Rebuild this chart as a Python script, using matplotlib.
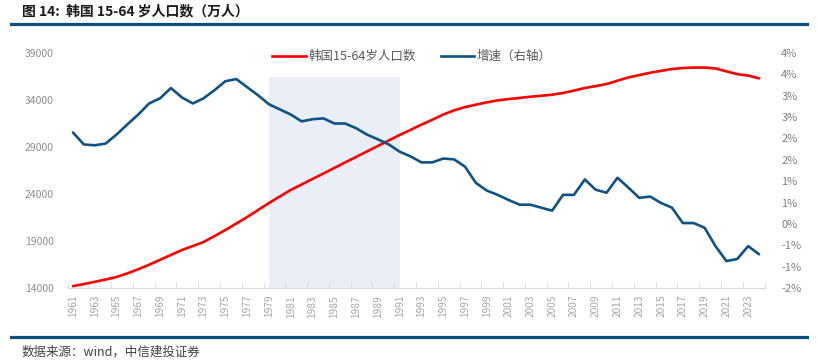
import numpy as np
import matplotlib.pyplot as plt
from matplotlib.ticker import FuncFormatter, MultipleLocator
from matplotlib.lines import Line2D

plt.rcParams['font.family'] = ['Noto Sans CJK SC', 'DejaVu Sans']

# data
years = list(range(1961, 2025))
pop = [14200, 14420, 14660, 14900, 15170, 15560, 16000, 16480, 17000, 17520,
       18040, 18460, 18900, 19520, 20170, 20860, 21550, 22300, 23040, 23740,
       24430, 25010, 25600, 26180, 26770, 27360, 27940, 28530, 29110, 29700,
       30280, 30820, 31380, 31900, 32450, 32900, 33250, 33500, 33750, 33960,
       34100, 34220, 34350, 34450, 34560, 34750, 35000, 35280, 35480, 35700,
       36050, 36400, 36650, 36900, 37100, 37300, 37400, 37450, 37450, 37350,
       37050, 36750, 36600, 36300]
growth = [2.14, 1.86, 1.84, 1.88, 2.09, 2.33, 2.56, 2.82, 2.94, 3.18,
          2.96, 2.82, 2.94, 3.13, 3.34, 3.39, 3.20, 3.01, 2.80, 2.68,
          2.56, 2.40, 2.45, 2.47, 2.35, 2.35, 2.24, 2.09, 1.98, 1.86,
          1.69, 1.58, 1.44, 1.44, 1.53, 1.51, 1.34, 0.96, 0.78, 0.68,
          0.56, 0.45, 0.45, 0.38, 0.31, 0.68, 0.68, 1.04, 0.80, 0.73,
          1.08, 0.85, 0.61, 0.64, 0.49, 0.38, 0.02, 0.02, -0.09, -0.52,
          -0.87, -0.82, -0.52, -0.71]
labels = ['韩国15-64岁人口数', '增速（右轴）']
left_ticks = [14000, 19000, 24000, 29000, 34000, 39000]
shade_start, shade_end, shade_top = 1979, 1991, 36500

title = '图 14:  韩国 15-64 岁人口数（万人）'
source = '数据来源：wind，中信建投证券'

red = '#ff0000'
blue = '#0f5283'
navy = '#0b4f7c'

fig = plt.figure(figsize=(8.18, 3.63), dpi=100)
ax = fig.add_axes([67.5 / 818, 75 / 363, 697 / 818, 235 / 363])
ax2 = ax.twinx()

x = np.arange(len(years))
i0, i1 = years.index(shade_start), years.index(shade_end)
ax.fill_between([x[i0], x[i1]], left_ticks[0], shade_top, color='#eaeff7', lw=0, zorder=0)
ax.plot(x, pop, color=red, lw=1.9, zorder=3, solid_capstyle='round')
ax2.plot(x, growth, color=blue, lw=1.9, zorder=3, solid_capstyle='round')

ax.set_xlim(-0.5, len(years) - 0.5)
ax.set_ylim(left_ticks[0], left_ticks[-1])
ax.set_yticks(left_ticks)
ax2.set_ylim(-1.5, 4)
ax2.yaxis.set_major_locator(MultipleLocator(0.5))


def pct(v, pos):
    r = int(np.sign(v) * np.floor(abs(v) + 0.5))
    return f'{r}%'


ax2.yaxis.set_major_formatter(FuncFormatter(pct))

ax.set_xticks(x[::2])
ax.set_xticklabels([str(y) for y in years[::2]], rotation=90)
ax.set_xticks(np.arange(-0.5, len(years), 2), minor=True)
ax.tick_params(axis='x', which='major', length=0, labelsize=7.3, colors='#a6a6a6', pad=5)
ax.tick_params(axis='x', which='minor', length=4, direction='in', color='#d9d9d9')
ax.tick_params(axis='y', length=0, labelsize=7.5, colors='#8c8c8c', pad=10)
ax2.tick_params(axis='y', length=0, labelsize=8, colors='#7f7f7f', pad=12)

for a in (ax, ax2):
    for s in a.spines.values():
        s.set_visible(False)
ax.spines['bottom'].set_visible(True)
ax.spines['bottom'].set_color('#d9d9d9')

handles = [Line2D([], [], color=red, lw=1.9), Line2D([], [], color=blue, lw=1.9)]
ax2.legend(handles, labels, loc='center', bbox_to_anchor=(0.494, 0.985), ncol=2,
           frameon=False, fontsize=9, handlelength=2.7, handletextpad=0.2,
           columnspacing=2.0, labelcolor='#595959')

# header / footer
fig.text(22 / 818, 1 - 11 / 363, title, fontsize=10, fontweight='bold',
         va='center', ha='left', color='#1a1a1a')
fig.add_artist(Line2D([11 / 818, 807 / 818], [1 - 24 / 363] * 2, color=navy, lw=2.3))
fig.add_artist(Line2D([11 / 818, 807 / 818], [1 - 337 / 363] * 2, color=navy, lw=2.3))
fig.text(22 / 818, 1 - 352 / 363, source, fontsize=9, style='italic',
         va='center', ha='left', color='#404040')

fig.patch.set_facecolor('white')
fig.savefig('out.png', dpi=100)
